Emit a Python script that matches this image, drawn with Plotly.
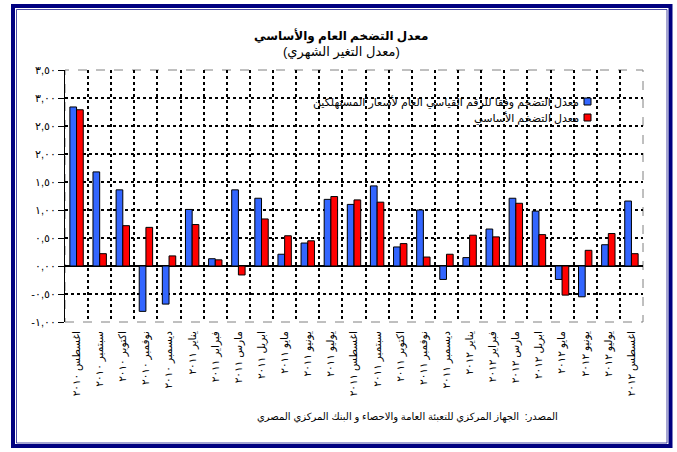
import plotly.graph_objects as go

months = ["اغسطس ٢٠١٠", "سبتمبر ٢٠١٠", "اكتوبر ٢٠١٠", "نوفمبر ٢٠١٠", "ديسمبر ٢٠١٠",
          "يناير ٢٠١١", "فبراير ٢٠١١", "مارس ٢٠١١", "ابريل ٢٠١١", "مايو ٢٠١١",
          "يونيو ٢٠١١", "يوليو ٢٠١١", "اغسطس ٢٠١١", "سبتمبر ٢٠١١", "اكتوبر ٢٠١١",
          "نوفمبر ٢٠١١", "ديسمبر ٢٠١١", "يناير ٢٠١٢", "فبراير ٢٠١٢", "مارس ٢٠١٢",
          "ابريل ٢٠١٢", "مايو ٢٠١٢", "يونيو ٢٠١٢", "يوليو ٢٠١٢", "اغسطس ٢٠١٢"]

headline = [2.84, 1.68, 1.36, -0.81, -0.68, 1.01, 0.13, 1.36, 1.21, 0.21,
            0.41, 1.19, 1.10, 1.43, 0.34, 1.00, -0.24, 0.15, 0.66, 1.21,
            0.98, -0.24, -0.55, 0.38, 1.16]

core = [2.79, 0.22, 0.72, 0.69, 0.18, 0.74, 0.11, -0.16, 0.84, 0.54,
        0.45, 1.24, 1.18, 1.14, 0.40, 0.16, 0.21, 0.55, 0.52, 1.12,
        0.56, -0.52, 0.28, 0.58, 0.22]

tick_vals = [-1.0, -0.5, 0.0, 0.5, 1.0, 1.5, 2.0, 2.5, 3.0, 3.5]
tick_text = ["-١,٠٠", "-٠,٥٠", "٠,٠٠", "٠,٥٠", "١,٠٠", "١,٥٠", "٢,٠٠", "٢,٥٠", "٣,٠٠", "٣,٥٠"]

name_headline = "معدل التضخم وفقا للرقم القياسي العام لأسعار المستهلكين"
name_core = "معدل التضخم الأساسي"
title1 = "معدل التضخم العام والأساسي"
title2 = "(معدل التغير الشهري)"
source = "المصدر:  الجهاز المركزي للتعبئة العامة والاحصاء و البنك المركزي المصري"

W, H = 677, 452
L, R, T, B = 65, 34, 70, 130
PW, PH = W - L - R, H - T - B


def px(x):
    return (x - L) / PW


def py(y):
    return (H - B - y) / PH


FONT = "Arial, 'Liberation Sans', 'DejaVu Sans', sans-serif"

fig = go.Figure()
fig.add_trace(go.Bar(x=months, y=headline, name=name_headline,
                     marker=dict(color="#3366FF", line=dict(color="#000000", width=1))))
fig.add_trace(go.Bar(x=months, y=core, name=name_core,
                     marker=dict(color="#FF0000", line=dict(color="#000000", width=1))))

fig.update_layout(
    width=W, height=H,
    margin=dict(l=L, r=R, t=T, b=B),
    paper_bgcolor="white", plot_bgcolor="white",
    barmode="group", bargap=0.42, bargroupgap=0.0,
    showlegend=False,
    font=dict(family=FONT, size=10, color="black"),
    xaxis=dict(
        type="category", tickangle=-90, tickson="boundaries",
        showgrid=True, gridcolor="black", griddash="dot", gridwidth=1.5,
        ticks="", showline=False, tickfont=dict(size=10.5),
        ticklabelstandoff=6,
    ),
    yaxis=dict(
        range=[-1.0, 3.5], tickvals=tick_vals, ticktext=tick_text,
        showgrid=True, gridcolor="black", griddash="dot", gridwidth=1.5,
        zeroline=True, zerolinecolor="black", zerolinewidth=1.5,
        showline=True, linecolor="black", linewidth=1,
        ticks="outside", ticklen=6, tickcolor="black",
        tickfont=dict(size=11),
    ),
)

shapes = [
    # plot area border (gray dashed)
    dict(type="rect", xref="paper", yref="paper", x0=0, x1=1, y0=0, y1=1,
         line=dict(color="#808080", width=1, dash="dash"), layer="below"),
    # outer frame (thick + thin inner line)
    dict(type="rect", xref="paper", yref="paper", x0=px(13), x1=px(670.5),
         y0=py(446), y1=py(6), line=dict(color="#000080", width=4)),
    dict(type="rect", xref="paper", yref="paper", x0=px(16.5), x1=px(667),
         y0=py(443), y1=py(9.5), line=dict(color="#000080", width=0.7)),
    # legend swatches
    dict(type="rect", xref="paper", yref="paper", x0=px(584), x1=px(591),
         y0=py(105), y1=py(98), fillcolor="#3366FF", line=dict(color="#000000", width=1)),
    dict(type="rect", xref="paper", yref="paper", x0=px(584), x1=px(591),
         y0=py(121), y1=py(114), fillcolor="#FF0000", line=dict(color="#000000", width=1)),
]
fig.update_layout(shapes=shapes)

annotations = [
    dict(text="<b>" + title1 + "</b>", x=px(341), y=py(36), xref="paper", yref="paper",
         showarrow=False, font=dict(size=12, family=FONT), xanchor="center", yanchor="middle"),
    dict(text=title2, x=px(341), y=py(52), xref="paper", yref="paper",
         showarrow=False, font=dict(size=13, family=FONT), xanchor="center", yanchor="middle"),
    dict(text=name_headline, x=px(581), y=py(101.5), xref="paper", yref="paper",
         showarrow=False, font=dict(size=11, family=FONT), xanchor="right", yanchor="middle"),
    dict(text=name_core, x=px(581), y=py(117.5), xref="paper", yref="paper",
         showarrow=False, font=dict(size=11, family=FONT), xanchor="right", yanchor="middle"),
    dict(text=source, x=px(407), y=py(417), xref="paper", yref="paper",
         showarrow=False, font=dict(size=10, family=FONT), xanchor="center", yanchor="middle"),
]
fig.update_layout(annotations=annotations)

fig.write_html("out.html", config={"displayModeBar": False},
               post_script="document.body.style.margin='0';")
